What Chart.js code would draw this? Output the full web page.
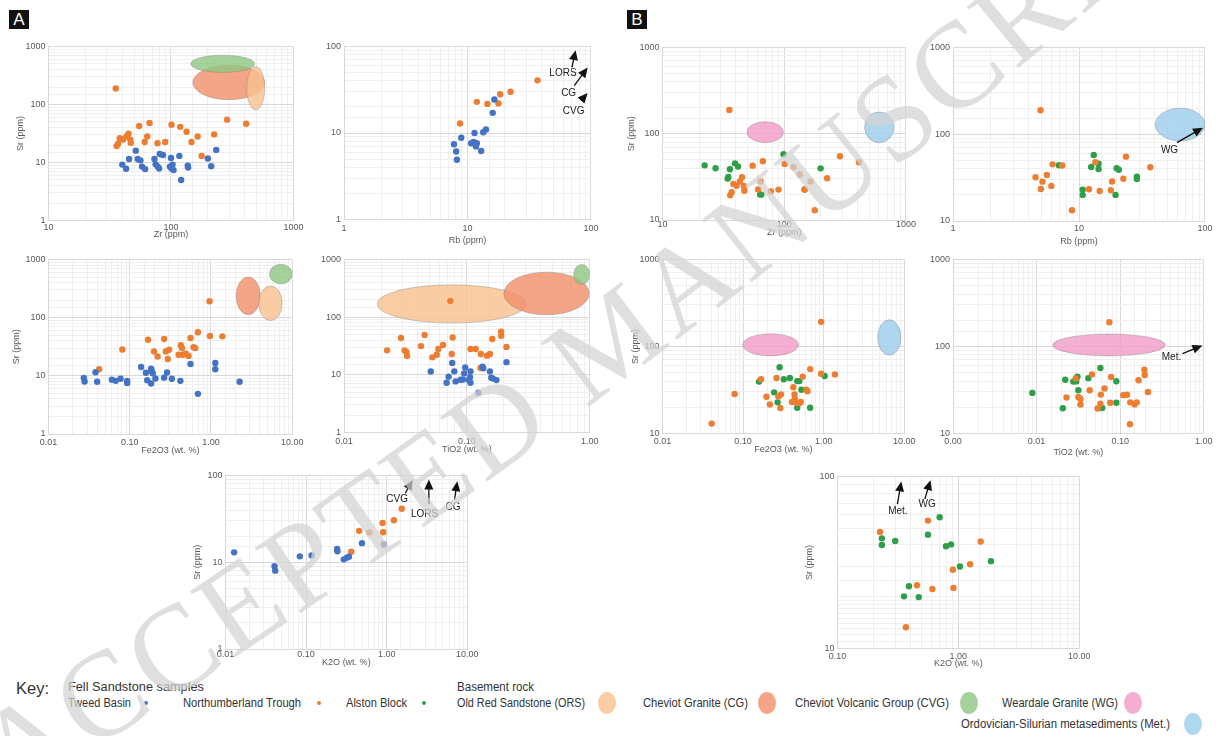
<!DOCTYPE html>
<html><head><meta charset="utf-8">
<script src="https://cdn.jsdelivr.net/npm/chart.js@4.4.1/dist/chart.umd.min.js"></script>
<style>
html,body{margin:0;padding:0;background:#fff;}
#stage{position:relative;width:1221px;height:736px;overflow:hidden;background:#fff;}
#stage canvas{position:absolute;}
.tag{position:absolute;background:#111;color:#fff;font:17px 'Liberation Sans',Arial,sans-serif;width:20px;height:19px;line-height:19px;text-align:center;}
.k{position:absolute;font-family:'Liberation Sans',Arial,sans-serif;color:#333;white-space:nowrap;transform-origin:0 50%;}
.dot{position:absolute;width:4px;height:4px;border-radius:50%;}
.oval{position:absolute;width:18px;height:22px;border-radius:50%;}
#wm{position:absolute;left:0;top:0;pointer-events:none;}
</style></head><body><div id="stage"></div>
<script>
// ---------------- DATA ----------------
// Zr vs Sr
const zrTweed = [40, 43, 45.5, 51.6, 53.5, 56.3, 58, 61.5, 73.3, 75, 78, 80, 81, 86, 100, 98, 101, 103, 105, 121, 117, 137, 138, 200, 213, 234];
const srZrTweed = [9.2, 7.8, 11.5, 16, 11.5, 10.9, 8.5, 7.7, 11.5, 9.3, 8.5, 7.9, 14, 13.5, 12, 8.5, 7.9, 9.2, 7.4, 5, 13, 8.8, 8.2, 11.7, 8.6, 16.5];
const zrNT = [35.4, 36, 37, 38.2, 40.6, 43.2, 45, 46.6, 47, 55, 61, 64, 66.8, 77.6, 89.7, 101, 119, 134, 147, 165, 178, 225, 287, 411];
const srZrNT = [189, 19.3, 21, 26.2, 24.9, 27.9, 31.3, 24.8, 21.8, 42.7, 22.6, 28, 48, 21.5, 22.5, 44.7, 41.2, 33.8, 22.6, 28, 13, 30.5, 54.8, 46.7];
const zrAB = [22.2, 27.3, 34.3, 34.7, 35.8, 39.4, 41.7, 63.4, 64.9, 98.6, 147, 199];
const srZrAB = [43, 39.8, 30.2, 31.6, 38.8, 45.4, 41.7, 19.7, 19.7, 57.8, 22.6, 39.7];
// Rb vs Sr
const rbTweed = [7.77, 8.1, 8.2, 8.9, 10.7, 11.2, 11.4, 11.7, 11.9, 12.9, 13.4, 14.1, 16.0, 16.5];
const srRbTweed = [7.4, 6.1, 4.9, 8.8, 7.6, 7.9, 10, 7.0, 7.6, 6.2, 10.2, 11.0, 17.1, 24.4];
const rbNTa = [8.7, 11.9, 14.5, 17.8, 18.4, 22.3, 36.9];
const srRbNTa = [12.9, 22.9, 21.7, 22, 28, 30, 40.6];
const rbNT = [4.95, 4.52, 5.13, 4.98, 5.56, 6.03, 6.17, 7.37, 8.8, 12.0, 13.5, 14.6, 17.9, 18.3, 22.5, 23.6, 36.8];
const srRbNT = [189, 31.9, 28.4, 23.4, 34, 25.4, 45, 43.6, 13.3, 23.2, 47.5, 22.2, 22.6, 28.5, 30.7, 55.2, 41.6];
const rbAB = [6.93, 10.7, 10.7, 12.5, 13.1, 14.3, 14.3, 19.5, 19.9, 20.7, 28.8, 28.8];
const srRbAB = [43.9, 23, 20, 42, 57.7, 45.9, 39.8, 20, 40.5, 39, 32.5, 30.5];
// Fe2O3 vs Sr
const feTweed = [0.0272, 0.0278, 0.0379, 0.0397, 0.0603, 0.0672, 0.077, 0.093, 0.093, 0.138, 0.158, 0.164, 0.183, 0.187, 0.192, 0.183, 0.207, 0.265, 0.288, 0.33, 0.42, 0.56, 0.69, 1.13, 1.13, 2.25];
const srFeTweed = [9.2, 8.0, 11.5, 7.9, 8.6, 8.2, 8.9, 8.2, 7.5, 14.2, 11.3, 8.4, 13.2, 12, 11.1, 7.4, 9, 9.3, 11.4, 8.9, 8.2, 16, 4.9, 13, 16.7, 7.9];
const feNTa = [0.042, 0.081, 0.168, 0.199, 0.22, 0.265, 0.278, 0.294, 0.305, 0.40, 0.425, 0.44, 0.45, 0.49, 0.53, 0.56, 0.61, 0.64, 0.69, 0.96, 0.97, 1.38];
const srFeNTa = [13, 28.4, 41.8, 26.2, 21.5, 43, 26.2, 19.5, 28, 23, 33.7, 30, 23, 24, 22, 44.6, 31, 30, 56, 192, 48.5, 47.7];
const feNT = [0.0408, 0.0786, 0.167, 0.195, 0.215, 0.26, 0.274, 0.296, 0.29, 0.405, 0.42, 0.435, 0.44, 0.45, 0.47, 0.50, 0.52, 0.55, 0.61, 0.63, 0.68, 0.93, 0.93, 1.38];
const srFeNT = [13, 28.4, 42, 26.5, 21.6, 43.5, 26.7, 28.2, 19.6, 23, 34, 28.2, 25, 23, 22.4, 22.4, 23, 45, 31.9, 30.6, 55, 192, 48.6, 47.8];
const feAB = [0.158, 0.243, 0.268, 0.284, 0.32, 0.38, 0.47, 0.50, 0.53, 0.47, 0.68, 1.03];
const srFeAB = [39.5, 29.7, 22.8, 57.7, 42, 43.5, 40, 40, 31.8, 19.8, 19.8, 45.8];
// TiO2 vs Sr
const tiTweed = [0.0508, 0.0684, 0.071, 0.076, 0.079, 0.081, 0.089, 0.093, 0.095, 0.097, 0.104, 0.106, 0.107, 0.107, 0.124, 0.134, 0.136, 0.154, 0.158, 0.163, 0.174, 0.21];
const srTiTweed = [11.4, 7.3, 9.3, 16, 11.5, 7.7, 8.2, 8.3, 10.6, 13.4, 8.1, 9.1, 7.3, 11.5, 4.9, 13.9, 13, 11.5, 8.9, 8.6, 8.1, 16.6];
const tiNTa = [0.0224, 0.0291, 0.0311, 0.0322, 0.0326, 0.0423, 0.0453, 0.0524, 0.0568, 0.0585, 0.064, 0.0733, 0.0752, 0.0766, 0.107, 0.118, 0.129, 0.13, 0.146, 0.154, 0.161, 0.19, 0.19, 0.21];
const srTiNTa = [26.6, 43.5, 26.6, 25, 21.3, 31.5, 49, 20.1, 22.3, 28, 33, 192, 23, 44.5, 28, 28, 13.1, 23, 21.5, 23, 41.8, 56, 47.5, 30.5];
const tiNT = [0.0742, 0.0228, 0.0293, 0.0316, 0.0335, 0.0335, 0.0432, 0.046, 0.0537, 0.058, 0.0587, 0.065, 0.076, 0.078, 0.109, 0.121, 0.131, 0.132, 0.149, 0.158, 0.166, 0.195, 0.197, 0.215];
const srTiNT = [190, 25.9, 43, 26.3, 25, 21.5, 31.4, 47.8, 19.4, 22, 28, 33, 22.6, 44.6, 27.6, 27.9, 12.8, 22.8, 21.6, 22.8, 41, 54, 47, 30];
const tiAB = [0.0089, 0.0206, 0.022, 0.0275, 0.0298, 0.0308, 0.0316, 0.0416, 0.058, 0.061, 0.09, 0.09];
const srTiAB = [29.3, 19.5, 41.5, 39.5, 39.7, 45, 31.5, 43.3, 56.6, 19.6, 39.8, 22.6];
// K2O vs Sr
const kTweed = [0.0128, 0.0406, 0.0414, 0.0836, 0.117, 0.243, 0.245, 0.294, 0.32, 0.34, 0.494, 0.92];
const srKTweed = [13, 9.0, 8.0, 11.7, 12, 14.2, 13.4, 10.8, 11.3, 11.6, 16.6, 16];
const kNTa = [0.363, 0.455, 0.61, 0.89, 0.905, 1.23, 1.54];
const srKNTa = [13.2, 23, 22, 28.4, 22.2, 30.5, 41.3];
const kNT = [0.225, 0.56, 1.53, 0.454, 0.61, 0.90, 0.91, 1.25, 0.368];
const srKNT = [47.6, 55.4, 41.9, 23.3, 22.2, 28.7, 22.5, 30.9, 13.3];
const kAB = [0.233, 0.233, 0.30, 0.56, 0.70, 0.79, 0.87, 1.03, 1.86, 0.39, 0.355, 0.47];
const srKAB = [43.7, 40, 42.2, 45.9, 57.9, 39.3, 40.3, 30, 32.2, 23, 20.1, 19.9];

// Basement fields: [rock, xmin, xmax, ymin, ymax]
const fieldsZrA = [['CG', 151, 582, 121, 477], ['ORS', 415, 582, 81, 453], ['CVG', 145, 482, 357, 709]];
const fieldsZrB = [['WG', 49.4, 98.4, 78.9, 138], ['Met', 457, 796, 78.9, 179]];
const fieldsRbB = [['Met', 40.3, 100, 83.8, 200]];
const fieldsFeA = [['CG', 2.04, 4.04, 112, 501], ['ORS', 3.88, 7.51, 89, 350], ['CVG', 5.25, 10, 380, 830]];
const fieldsFeB = [['WG', 0.099, 0.488, 78, 140], ['Met', 4.68, 9.1, 79.4, 203]];
const fieldsTiA = [['ORS', 0.0186, 0.305, 79, 364], ['CG', 0.2, 0.99, 110, 604], ['CVG', 0.74, 1.0, 369, 820]];
const fieldsTiB = [['WG', 0.0156, 0.346, 78, 139]];

// Arrows [x1,y1,x2,y2] and labels [x,y,text]
const arrowsRbA = [[70.1, 57.3, 75, 90.8], [73.2, 35.2, 94, 57.3], [83, 23.7, 94, 29]];
const labelsRbA = [[59.3, 48.9, 'LORS'], [65.9, 29, 'CG'], [72.3, 17.7, 'CVG']];
const arrowsRbB = [[59.9, 80.2, 96.4, 119]];
const labelsRbB = [[52.3, 65.9, 'WG']];
const arrowsTiB = [[0.557, 83, 0.964, 103]];
const labelsTiB = [[0.411, 74.6, 'Met.']];
const arrowsKA = [[1.7, 62.5, 2.1, 89], [3.34, 47, 3.34, 89.9], [6.95, 52.4, 7.52, 86]];
const labelsKA = [[1.35, 53.8, 'CVG'], [2.95, 36.1, 'LORS'], [6.64, 43, 'CG']];
const arrowsKB = [[0.313, 69.1, 0.337, 93.6], [0.528, 74, 0.588, 95.2]];
const labelsKB = [[0.316, 62.7, 'Met.'], [0.552, 68.6, 'WG']];

// ---------------- STYLE ----------------
const F = "'Liberation Sans', Arial, sans-serif";
const COLORS = {tweed: '#4472C4', nt: '#ED7D31', ab: '#2E9E48'};
const FILLS = {ORS: 'rgba(249,192,142,0.8)', CG: 'rgba(241,143,105,0.8)', CVG: 'rgba(142,199,130,0.8)', WG: 'rgba(242,155,199,0.8)', Met: 'rgba(155,205,236,0.8)'};
const isDec = v => { const l = Math.log10(v); return Math.abs(l - Math.round(l)) < 1e-6; };
const fmtInt = v => String(Math.round(v));
const fmt2 = v => v.toFixed(2);

const annot = {
  id: 'annot',
  beforeDatasetsDraw(chart, args, o) {
    const {ctx, chartArea: a, scales: {x, y}} = chart;
    ctx.save();
    ctx.beginPath(); ctx.rect(a.left, a.top, a.right - a.left, a.bottom - a.top); ctx.clip();
    (o.fields || []).forEach(f => {
      const x1 = x.getPixelForValue(f[1]), x2 = x.getPixelForValue(f[2]);
      const y1 = y.getPixelForValue(f[3]), y2 = y.getPixelForValue(f[4]);
      ctx.beginPath();
      ctx.ellipse((x1 + x2) / 2, (y1 + y2) / 2, Math.abs(x2 - x1) / 2, Math.abs(y2 - y1) / 2, 0, 0, Math.PI * 2);
      ctx.fillStyle = FILLS[f[0]]; ctx.fill();
      ctx.strokeStyle = 'rgba(120,120,120,0.45)'; ctx.lineWidth = 0.8; ctx.stroke();
    });
    ctx.restore();
  },
  afterDatasetsDraw(chart, args, o) {
    const {ctx, scales: {x, y}} = chart;
    ctx.save();
    (o.arrows || []).forEach(a => {
      const x1 = x.getPixelForValue(a[0]), y1 = y.getPixelForValue(a[1]);
      const x2 = x.getPixelForValue(a[2]), y2 = y.getPixelForValue(a[3]);
      const an = Math.atan2(y2 - y1, x2 - x1), L = 10, W = 4.5;
      const c = Math.cos(an), s = Math.sin(an);
      ctx.strokeStyle = '#111'; ctx.lineWidth = 1.3;
      ctx.beginPath(); ctx.moveTo(x1, y1); ctx.lineTo(x2 - c * L * 0.7, y2 - s * L * 0.7); ctx.stroke();
      ctx.fillStyle = '#111';
      ctx.beginPath(); ctx.moveTo(x2, y2);
      ctx.lineTo(x2 - L * c + W * s, y2 - L * s - W * c);
      ctx.lineTo(x2 - L * c - W * s, y2 - L * s + W * c);
      ctx.closePath(); ctx.fill();
    });
    (o.labels || []).forEach(l => {
      ctx.font = '10px ' + F; ctx.textAlign = 'center'; ctx.textBaseline = 'middle'; ctx.fillStyle = '#1a1a1a';
      ctx.fillText(l[2], x.getPixelForValue(l[0]), y.getPixelForValue(l[1]));
    });
    ctx.restore();
  }
};

const pts = (xs, ys) => xs.map((v, i) => ({x: v, y: ys[i]}));

// panels: box = plot area [left, top, right, bottom]
const panels = [
  {box: [48, 46, 293, 220], xr: [10, 1000], yr: [1, 1000], xf: fmtInt, xl: 'Zr (ppm)', xt: 7, xT: 14, yT: 28,
   series: [['tweed', zrTweed, srZrTweed], ['nt', zrNT, srZrNT]], fields: fieldsZrA},
  {box: [344, 46, 591, 219], xr: [1, 100], yr: [1, 100], xf: fmtInt, xl: 'Rb (ppm)', xt: 9, xT: 21,
   series: [['tweed', rbTweed, srRbTweed], ['nt', rbNTa, srRbNTa]], arrows: arrowsRbA, labels: labelsRbA},
  {box: [662, 47, 905, 219], xr: [10, 1000], yr: [10, 1000], xf: fmtInt, xl: 'Zr (ppm)', xt: 4.5, xT: 12.5, yT: 31,
   series: [['nt', zrNT, srZrNT], ['ab', zrAB, srZrAB]], fields: fieldsZrB},
  {box: [953, 47, 1205, 220], xr: [1, 100], yr: [10, 1000], xf: fmtInt, xl: 'Rb (ppm)', xt: 8, xT: 20.5,
   series: [['nt', rbNT, srRbNT], ['ab', rbAB, srRbAB]], fields: fieldsRbB, arrows: arrowsRbB, labels: labelsRbB},
  {box: [48, 259, 292, 433], xr: [0.01, 10], yr: [1, 1000], xf: fmt2, xl: 'Fe2O3 (wt. %)', xt: 9, xT: 16.5, yT: 32,
   series: [['tweed', feTweed, srFeTweed], ['nt', feNTa, srFeNTa]], fields: fieldsFeA},
  {box: [344, 259, 590, 432], xr: [0.01, 1], yr: [1, 1000], xf: fmt2, xl: 'TiO2 (wt. %)', xt: 9, xT: 17,
   series: [['tweed', tiTweed, srTiTweed], ['nt', tiNTa, srTiNTa]], fields: fieldsTiA},
  {box: [662, 259, 904, 433], xr: [0.01, 10], yr: [10, 1000], xf: fmt2, xl: 'Fe2O3 (wt. %)', xt: 8, xT: 16, yT: 27,
   series: [['nt', feNT, srFeNT], ['ab', feAB, srFeAB]], fields: fieldsFeB},
  {box: [953, 259, 1204, 433], xr: [0.001, 1], yr: [10, 1000], xf: fmt2, xl: 'TiO2 (wt. %)', xt: 8, xT: 19,
   series: [['nt', tiNT, srTiNT], ['ab', tiAB, srTiAB]], fields: fieldsTiB, arrows: arrowsTiB, labels: labelsTiB},
  {box: [225, 475, 467, 648], xr: [0.01, 10], yr: [1, 100], xf: fmt2, xl: 'K2O (wt. %)', xt: 6, xT: 13.5, yT: 28,
   series: [['tweed', kTweed, srKTweed], ['nt', kNTa, srKNTa]], arrows: arrowsKA, labels: labelsKA},
  {box: [837, 476, 1079, 648], xr: [0.1, 10], yr: [10, 100], xf: fmt2, xl: 'K2O (wt. %)', xt: 8, xT: 15, yT: 28,
   series: [['nt', kNT, srKNT], ['ab', kAB, srKAB]], arrows: arrowsKB, labels: labelsKB}
];

const gridCol = c => (c.tick && isDec(c.tick.value)) ? '#d9d9d9' : '#efefef';

function cfg(p) {
  const yScale = {
    type: 'logarithmic', min: p.yr[0], max: p.yr[1],
    ticks: {autoSkip: false, padding: 3, color: '#595959', font: {size: 9, family: F, lineHeight: 1}, callback: v => isDec(v) ? fmtInt(v) : ''},
    grid: {color: gridCol, drawTicks: false}, border: {color: '#d9d9d9'},
    title: {display: !!p.yT, text: 'Sr (ppm)', color: '#595959', font: {size: 9, family: F, lineHeight: 1}, padding: 0}
  };
  if (p.yT) yScale.afterFit = s => { s.width = p.yT + 4.5; };
  return {
    type: 'scatter',
    data: {datasets: p.series.map(s => ({label: s[0], data: pts(s[1], s[2]), backgroundColor: COLORS[s[0]], borderWidth: 0, pointRadius: 3.2, pointHoverRadius: 3.2}))},
    options: {
      responsive: false, maintainAspectRatio: false, animation: false, events: [],
      layout: {padding: {top: 4, right: 6, left: 0, bottom: 0}},
      plugins: {legend: {display: false}, tooltip: {enabled: false}, annot: {fields: p.fields, arrows: p.arrows, labels: p.labels}},
      scales: {
        x: {
          type: 'logarithmic', min: p.xr[0], max: p.xr[1],
          ticks: {autoSkip: false, maxRotation: 0, padding: Math.max(0, p.xt - 4.5), color: '#595959', font: {size: 9, family: F, lineHeight: 1}, callback: v => isDec(v) ? p.xf(v) : ''},
          grid: {color: gridCol, drawTicks: false}, border: {color: '#d9d9d9'},
          title: {display: true, text: p.xl, color: '#595959', font: {size: 9, family: F, lineHeight: 1}, padding: 0},
          afterFit: s => { s.height = p.xT + 4.5; }
        },
        y: yScale
      }
    },
    plugins: [annot]
  };
}

const stage = document.getElementById('stage');
function mkCanvas(w, h) {
  const c = document.createElement('canvas');
  c.width = w; c.height = h; c.style.width = w + 'px'; c.style.height = h + 'px';
  stage.appendChild(c); return c;
}
panels.forEach(p => {
  const tw = p.box[2] - p.box[0], th = p.box[3] - p.box[1];
  let W = tw + 80, H = th + 50;
  let c = mkCanvas(W, H), ch = new Chart(c, cfg(p));
  let a = ch.chartArea;
  W = Math.round(W + tw - (a.right - a.left)); H = Math.round(H + th - (a.bottom - a.top));
  ch.destroy(); c.remove();
  c = mkCanvas(W, H); ch = new Chart(c, cfg(p)); a = ch.chartArea;
  c.style.left = (p.box[0] - a.left) + 'px'; c.style.top = (p.box[1] - a.top) + 'px';
});

// Panel tags
[['A', 9, 10], ['B', 627, 10]].forEach(t => {
  const d = document.createElement('div'); d.className = 'tag'; d.textContent = t[0];
  d.style.left = t[1] + 'px'; d.style.top = t[2] + 'px'; stage.appendChild(d);
});

// Key: [text, left, centreY, fontSize, targetWidth]
const keyTexts = [['Key:', 16, 688, 17, 33], ['Fell Sandstone samples', 68, 687, 12.5, 136], ['Tweed Basin', 68, 703, 12.5, 63],
  ['Northumberland Trough', 183, 703, 12.5, 118], ['Alston Block', 346, 703, 12.5, 61], ['Basement rock', 457, 687, 12.5, 77],
  ['Old Red Sandstone (ORS)', 457, 703, 12.5, 128], ['Cheviot Granite (CG)', 643, 703, 12.5, 105],
  ['Cheviot Volcanic Group (CVG)', 795, 703, 12.5, 154], ['Weardale Granite (WG)', 1002, 703, 12.5, 116],
  ['Ordovician-Silurian metasediments (Met.)', 961, 724, 12.5, 209]];
keyTexts.forEach(t => {
  const d = document.createElement('div'); d.className = 'k'; d.textContent = t[0];
  d.style.fontSize = t[3] + 'px'; d.style.lineHeight = t[3] + 'px';
  d.style.left = t[1] + 'px'; d.style.top = (t[2] - t[3] / 2) + 'px';
  stage.appendChild(d);
  const w = d.getBoundingClientRect().width;
  d.style.transform = 'scaleX(' + (t[4] / w).toFixed(3) + ')';
});
[['tweed', 144, 701], ['nt', 317, 701], ['ab', 422, 701]].forEach(k => {
  const d = document.createElement('div'); d.className = 'dot'; d.style.background = COLORS[k[0]];
  d.style.left = k[1] + 'px'; d.style.top = k[2] + 'px'; stage.appendChild(d);
});
[['ORS', 598, 692], ['CG', 758, 692], ['CVG', 960, 692], ['WG', 1124, 692], ['Met', 1184, 713]].forEach(k => {
  const d = document.createElement('div'); d.className = 'oval'; d.style.background = FILLS[k[0]];
  d.style.left = k[1] + 'px'; d.style.top = k[2] + 'px'; stage.appendChild(d);
});

// Watermark
const svgNS = 'http://www.w3.org/2000/svg';
const svg = document.createElementNS(svgNS, 'svg');
svg.setAttribute('id', 'wm'); svg.setAttribute('width', 1221); svg.setAttribute('height', 736);
svg.innerHTML = '<defs><path id="wmp" d="M 10 800 Q 560 470 1300 -170"/></defs>' +
  '<text font-family="Liberation Serif, serif" font-size="122" letter-spacing="4" fill="#d2d2d2" fill-opacity="0.72"><textPath href="#wmp">ACCEPTED MANUSCRIPT</textPath></text>';
stage.appendChild(svg);
</script></body></html>
